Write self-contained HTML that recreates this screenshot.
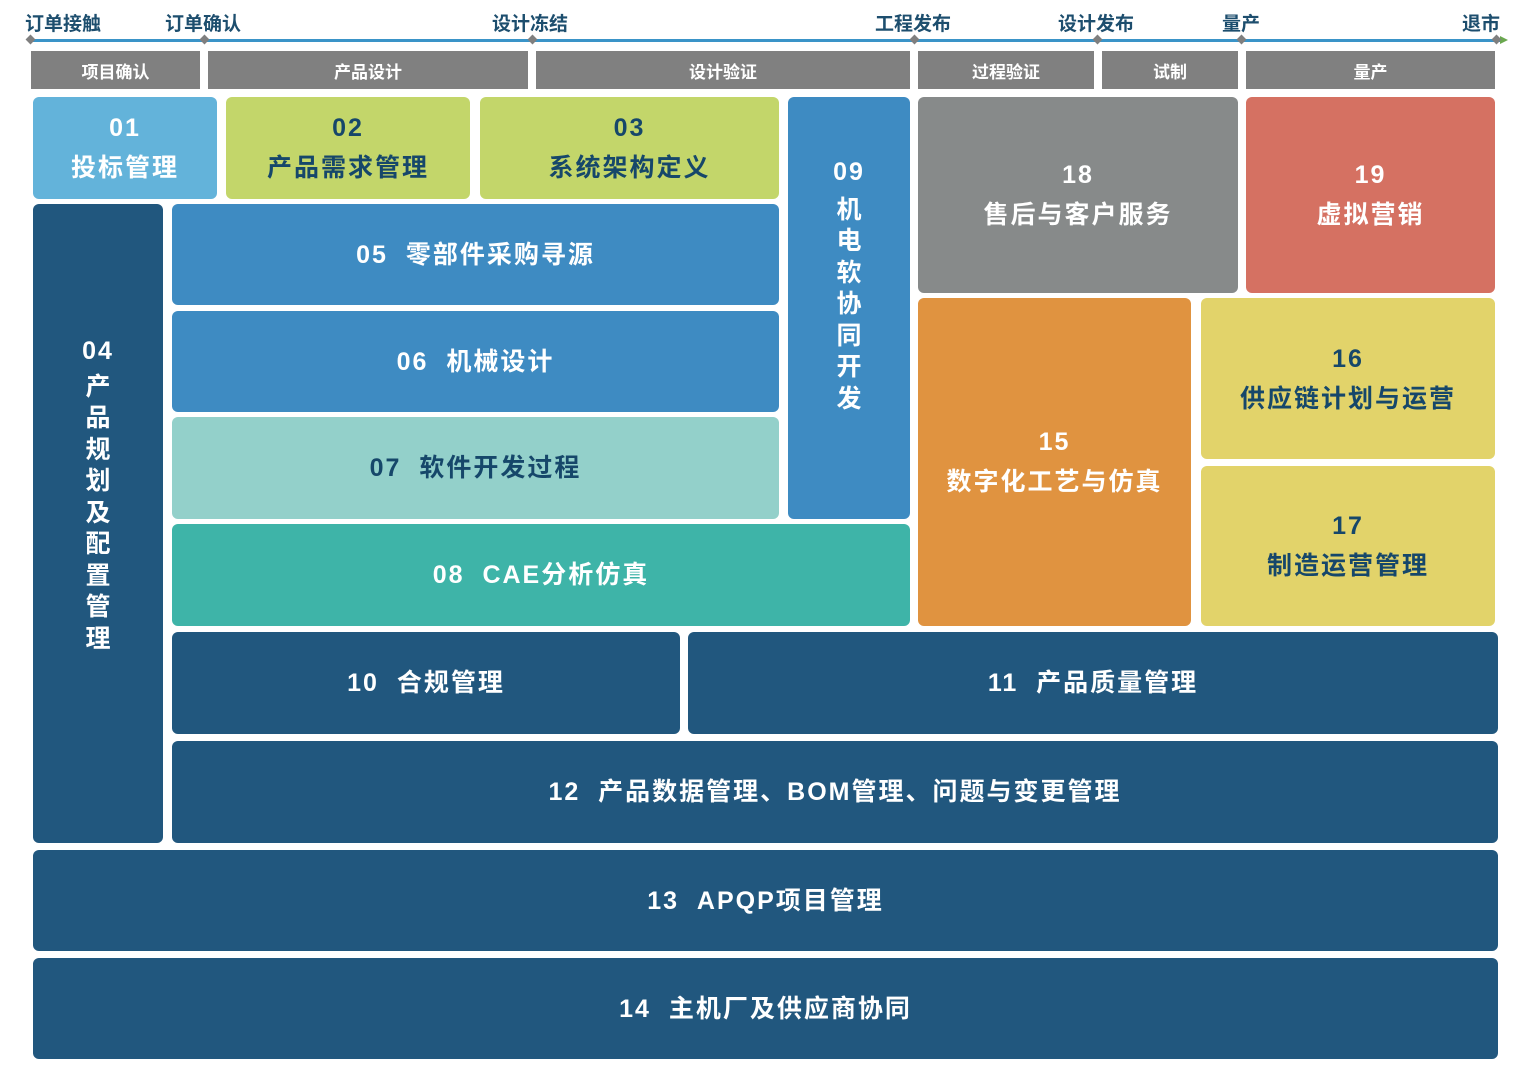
<!DOCTYPE html>
<html><head><meta charset="utf-8"><style>
body{margin:0;width:1522px;height:1082px;background:#fff;position:relative;overflow:hidden;font-family:"Liberation Sans","Noto Sans CJK SC",sans-serif;font-weight:bold}
.b{position:absolute;border-radius:6px;display:flex;flex-direction:column;align-items:center;justify-content:center;color:#fff;font-size:25px;letter-spacing:2px;line-height:40px;box-sizing:border-box}
.h{position:absolute;top:51px;height:38px;background:#808080;color:#fff;font-size:17px;display:flex;align-items:center;justify-content:center}
.t{position:absolute;top:9px;font-size:19px;color:#1d4e6e}
.d{position:absolute;top:36px;width:7px;height:7px;background:#7f7f7f;transform:rotate(45deg)}
.nv{background:#21577e}.bl{background:#3e8bc2}
.dk{color:#16476a}
</style></head><body>
<div style="position:absolute;left:30px;top:39px;width:1472px;height:3px;background:#3a94c8"></div>
<div style="position:absolute;left:1500px;top:36px;width:0;height:0;border-left:8px solid #6aa84f;border-top:4px solid transparent;border-bottom:4px solid transparent"></div>
<div class="d" style="left:27px"></div><div class="d" style="left:201px"></div><div class="d" style="left:529px"></div><div class="d" style="left:911px"></div><div class="d" style="left:1094px"></div><div class="d" style="left:1238px"></div><div class="d" style="left:1493px"></div>
<div class="t" style="left:25px">订单接触</div><div class="t" style="left:165px">订单确认</div><div class="t" style="left:492px">设计冻结</div><div class="t" style="left:875px">工程发布</div><div class="t" style="left:1058px">设计发布</div><div class="t" style="left:1222px">量产</div><div class="t" style="left:1462px">退市</div>
<div class="h" style="left:31px;width:169px">项目确认</div>
<div class="h" style="left:208px;width:320px">产品设计</div>
<div class="h" style="left:536px;width:374px">设计验证</div>
<div class="h" style="left:918px;width:176px">过程验证</div>
<div class="h" style="left:1102px;width:136px">试制</div>
<div class="h" style="left:1246px;width:249px">量产</div>

<div class="b" style="left:33px;top:97px;width:184px;height:102px;background:#63b3da"><div>01</div><div>投标管理</div></div>
<div class="b dk" style="left:226px;top:97px;width:244px;height:102px;background:#c3d66a"><div>02</div><div>产品需求管理</div></div>
<div class="b dk" style="left:480px;top:97px;width:299px;height:102px;background:#c3d66a"><div>03</div><div>系统架构定义</div></div>
<div class="b bl" style="left:788px;top:97px;width:122px;height:422px;justify-content:flex-start;padding-top:60px;line-height:31.5px"><div style="margin-bottom:6px">09</div><div style="width:26px;text-align:center;letter-spacing:0">机电软协同开发</div></div>
<div class="b" style="left:918px;top:97px;width:320px;height:196px;background:#878a8a"><div>18</div><div>售后与客户服务</div></div>
<div class="b" style="left:1246px;top:97px;width:249px;height:196px;background:#d57162"><div>19</div><div>虚拟营销</div></div>
<div class="b nv" style="left:33px;top:204px;width:130px;height:639px;justify-content:flex-start;padding-top:132px;line-height:31.5px"><div style="margin-bottom:4px">04</div><div style="width:26px;text-align:center;letter-spacing:0">产品规划及配置管理</div></div>
<div class="b bl" style="left:172px;top:204px;width:607px;height:101px">05&nbsp;&nbsp;零部件采购寻源</div>
<div class="b bl" style="left:172px;top:311px;width:607px;height:101px">06&nbsp;&nbsp;机械设计</div>
<div class="b dk" style="left:172px;top:417px;width:607px;height:102px;background:#93d0ca">07&nbsp;&nbsp;软件开发过程</div>
<div class="b" style="left:172px;top:524px;width:738px;height:102px;background:#3eb4a8">08&nbsp;&nbsp;CAE分析仿真</div>
<div class="b" style="left:918px;top:298px;width:273px;height:328px;background:#e09340"><div>15</div><div>数字化工艺与仿真</div></div>
<div class="b dk" style="left:1201px;top:298px;width:294px;height:161px;background:#e2d36a"><div>16</div><div>供应链计划与运营</div></div>
<div class="b dk" style="left:1201px;top:466px;width:294px;height:160px;background:#e2d36a"><div>17</div><div>制造运营管理</div></div>
<div class="b nv" style="left:172px;top:632px;width:508px;height:102px">10&nbsp;&nbsp;合规管理</div>
<div class="b nv" style="left:688px;top:632px;width:810px;height:102px">11&nbsp;&nbsp;产品质量管理</div>
<div class="b nv" style="left:172px;top:741px;width:1326px;height:102px">12&nbsp;&nbsp;产品数据管理、BOM管理、问题与变更管理</div>
<div class="b nv" style="left:33px;top:850px;width:1465px;height:101px">13&nbsp;&nbsp;APQP项目管理</div>
<div class="b nv" style="left:33px;top:958px;width:1465px;height:101px">14&nbsp;&nbsp;主机厂及供应商协同</div>
</body></html>
